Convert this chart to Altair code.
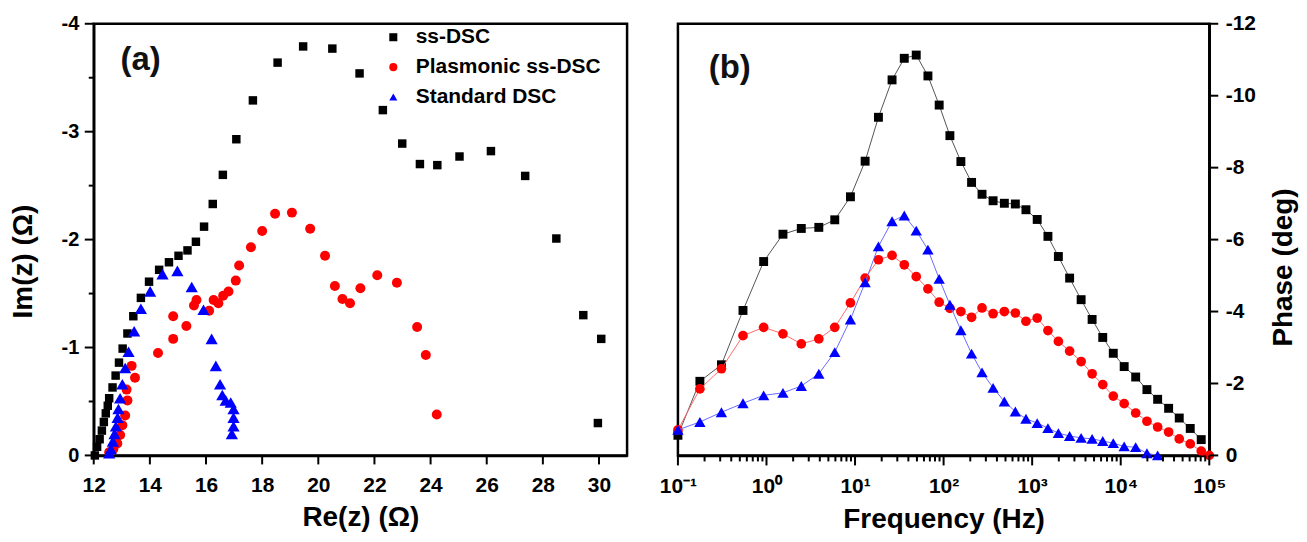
import altair as alt
import pandas as pd

FONT = "Liberation Sans"

# ---------------- Panel (a): Nyquist ----------------
names = ["ss-DSC", "Plasmonic ss-DSC", "Standard DSC"]
colors = ["#000000", "#ff0000", "#0000ff"]
line_colors = ["#555555", "#ff6a6a", "#6a6aff"]
shapes = ["square", "circle", "triangle-up"]

ss_re = [12.04, 12.12, 12.21, 12.29, 12.36, 12.43, 12.50, 12.55, 12.67, 12.78, 12.90, 13.03, 13.20, 13.41,
         13.68, 13.97, 14.33, 14.68, 15.02, 15.34, 15.64, 15.93, 16.24, 16.60, 17.08, 17.67, 18.55, 19.46,
         20.50, 21.47, 22.30, 22.99, 23.62, 24.24, 25.03, 26.15, 27.37, 28.48, 29.44, 30.08, 29.96]
ss_im = [0.0, -0.08, -0.15, -0.23, -0.31, -0.39, -0.46, -0.53, -0.63, -0.74, -0.86, -0.99, -1.13, -1.29,
         -1.46, -1.61, -1.72, -1.79, -1.85, -1.90, -1.98, -2.12, -2.33, -2.60, -2.93, -3.29, -3.64, -3.79,
         -3.77, -3.54, -3.20, -2.89, -2.70, -2.69, -2.77, -2.82, -2.59, -2.01, -1.30, -1.08, -0.30]

pl_re = [12.55, 12.70, 12.84, 12.94, 13.02, 13.12, 13.20, 13.17, 13.47, 13.35, 14.29, 14.83, 14.83, 15.30,
         15.57, 15.66, 16.11, 16.27, 16.44, 16.61, 16.80, 17.06, 17.18, 17.60, 18.00, 18.46, 19.06, 19.71,
         20.24, 20.59, 20.86, 21.13, 21.50, 22.10, 22.80, 23.52, 23.83, 24.22]
pl_im = [-0.03, -0.06, -0.11, -0.19, -0.28, -0.37, -0.51, -0.61, -0.72, -0.83, -0.95, -1.08, -1.29, -1.20,
         -1.39, -1.44, -1.34, -1.44, -1.41, -1.48, -1.52, -1.62, -1.76, -1.93, -2.08, -2.24, -2.25, -2.10,
         -1.85, -1.57, -1.45, -1.41, -1.55, -1.67, -1.60, -1.19, -0.93, -0.38]

st_re = [12.55, 12.61, 12.68, 12.74, 12.79, 12.85, 12.88, 12.94, 13.02, 13.12, 13.24, 13.44, 13.68, 14.01,
         14.45, 14.98, 15.49, 15.91, 16.20, 16.35, 16.50, 16.58, 16.70, 16.88, 16.98, 16.98, 16.98, 16.92]
st_im = [-0.02, -0.06, -0.13, -0.20, -0.27, -0.35, -0.43, -0.53, -0.66, -0.81, -0.96, -1.15, -1.36, -1.52,
         -1.68, -1.71, -1.56, -1.35, -1.08, -0.83, -0.66, -0.56, -0.51, -0.49, -0.43, -0.35, -0.27, -0.20]

re_ticks = [12, 14, 16, 18, 20, 22, 24, 26, 28, 30]
im_major = [-4, -3, -2, -1, 0]
im_minor = [-3.5, -2.5, -1.5, -0.5]

# ---------------- Panel (b): Bode phase ----------------
freq = [0.1, 0.177, 0.310, 0.543, 0.929, 1.535, 2.472, 3.899, 5.902, 8.872, 13.0, 18.37, 26.18, 35.97,
        49.09, 66.53, 89.13, 117.8, 156.7, 207.0, 271.6, 362.2, 485.3, 645.7, 851.1, 1140, 1507, 1977,
        2649, 3573, 4753, 6266, 8241, 10940, 14760, 19770, 26120, 34750, 45810, 60950, 81100, 100000]
ss_phase = [-0.56, -2.06, -2.52, -4.03, -5.39, -6.15, -6.31, -6.34, -6.55, -7.19, -8.18, -9.40, -10.44,
            -11.04, -11.13, -10.55, -9.74, -8.89, -8.17, -7.59, -7.26, -7.08, -7.01, -6.99, -6.83, -6.56,
            -6.09, -5.53, -4.93, -4.33, -3.78, -3.28, -2.84, -2.47, -2.18, -1.83, -1.56, -1.31, -1.04,
            -0.75, -0.44]
pl_phase = [-0.71, -1.85, -2.41, -3.33, -3.56, -3.38, -3.10, -3.24, -3.56, -4.24, -4.93, -5.44, -5.56,
            -5.30, -4.97, -4.63, -4.26, -4.09, -4.00, -3.84, -4.10, -3.94, -4.00, -3.96, -3.73, -3.82,
            -3.47, -3.17, -2.90, -2.61, -2.27, -1.97, -1.65, -1.44, -1.18, -0.95, -0.79, -0.65, -0.46,
            -0.32, -0.12, 0.0]
st_phase = [-0.71, -0.93, -1.20, -1.45, -1.67, -1.74, -1.93, -2.27, -2.87, -3.78, -4.81, -5.81, -6.51,
            -6.67, -6.25, -5.72, -4.91, -4.19, -3.48, -2.83, -2.31, -1.88, -1.50, -1.22, -1.02, -0.90,
            -0.76, -0.62, -0.54, -0.49, -0.46, -0.40, -0.34, -0.25, -0.23, -0.06, 0.0]

decade_vals = [0.1, 1, 10, 100, 1000, 10000, 100000]
decade_labels = ["10⁻¹", "10⁰", "10¹", "10²", "10³", "10⁴", "10⁵"]
minor_mult = [2, 3, 4, 5, 6, 7, 8, 9]
phase_ticks = [-12, -10, -8, -6, -4, -2, 0]

# ---------------- tables ----------------
df_a = pd.DataFrame({
    "Re": ss_re + pl_re + st_re,
    "Im": ss_im + pl_im + st_im,
    "series": [names[0]] * len(ss_re) + [names[1]] * len(pl_re) + [names[2]] * len(st_re),
})
phases = [ss_phase, pl_phase, st_phase]
df_b = pd.concat([
    pd.DataFrame({"freq": freq[:len(p)], "phase": p, "series": names[i]})
    for i, p in enumerate(phases)
], ignore_index=True)

freq_minor = [m * d for d in decade_vals[:-1] for m in minor_mult]
freq_label_expr = " : ".join(
    f"datum.value == {v!r} ? '{l}'" for v, l in zip(decade_vals, decade_labels)
) + " : ''"

W_A, W_B, H = 535, 533, 433

# ---------------- panel (a) ----------------
legend_a = alt.Legend(
    orient="none", legendX=290, legendY=3, title=None, labelFont=FONT, labelFontSize=21,
    labelFontWeight="bold", labelColor="black", symbolSize=65, rowPadding=8, labelOffset=12,
    padding=0, symbolStrokeWidth=0, labelLimit=400,
)
x_a = alt.X("Re:Q", scale=alt.Scale(domain=[12, 31], nice=False, zero=False),
            axis=alt.Axis(values=re_ticks, labelExpr="toString(datum.value)", ticks=False,
                          labelPadding=19, labelFontSize=21, labelFlush=False, labelOverlap=False,
                          title="Re(z) (Ω)", titleFontSize=28, titleY=70,
                          titleBaseline="alphabetic"))
y_a = alt.Y("Im:Q", scale=alt.Scale(domain=[-4, 0], reverse=True, nice=False, zero=False),
            axis=alt.Axis(values=im_major, labelExpr="toString(datum.value)", ticks=False,
                          labelPadding=15, labelFontSize=20, labelOverlap=False,
                          title="Im(z) (Ω)", titleFontSize=28, titleAngle=270, titleX=-70,
                          titleY=238, titleAlign="center", titleBaseline="middle"))
base_a = alt.Chart(df_a).encode(
    x=x_a, y=y_a,
    color=alt.Color("series:N", scale=alt.Scale(domain=names, range=colors), legend=legend_a),
    shape=alt.Shape("series:N", scale=alt.Scale(domain=names, range=shapes), legend=legend_a),
)
sizes_a = [72, 100, 150]
layers_a = [
    base_a.transform_filter(alt.datum.series == n).mark_point(filled=True, opacity=1, size=s)
    for n, s in zip(names, sizes_a)
]
# tick marks drawn through the same scales
tick_style = dict(color="black", strokeWidth=2)
ticks_ax = alt.Chart(pd.DataFrame({"Re": re_ticks})).mark_rule(**tick_style).encode(
    x=x_a, y=alt.value(H), y2=alt.value(H + 9))
ticks_ay_major = alt.Chart(pd.DataFrame({"Im": im_major})).mark_rule(**tick_style).encode(
    y=y_a, x=alt.value(0), x2=alt.value(-9))
ticks_ay_minor = alt.Chart(pd.DataFrame({"Im": im_minor})).mark_rule(**tick_style).encode(
    y=y_a, x=alt.value(0), x2=alt.value(-5))
label_a = alt.Chart(pd.DataFrame({"t": ["(a)"]})).mark_text(
    font=FONT, fontSize=33, fontWeight="bold", color="#111111", align="center", baseline="middle"
).encode(x=alt.value(47), y=alt.value(36), text="t:N")
panel_a = alt.layer(*layers_a, ticks_ax, ticks_ay_major, ticks_ay_minor, label_a).properties(
    width=W_A, height=H)

# ---------------- panel (b) ----------------
x_b = alt.X("freq:Q", scale=alt.Scale(type="log", domain=[0.1, 100000], nice=False),
            axis=alt.Axis(values=decade_vals, labelExpr=freq_label_expr, ticks=False,
                          labelPadding=20, labelFontSize=21, labelFlush=False, labelOverlap=False,
                          title="Frequency (Hz)", titleFontSize=28, titleY=72,
                          titleBaseline="alphabetic"))
y_b = alt.Y("phase:Q", scale=alt.Scale(domain=[-12, 0], reverse=True, nice=False, zero=False),
            axis=alt.Axis(orient="right", values=phase_ticks, labelExpr="toString(datum.value)",
                          ticks=False, labelPadding=16, labelFontSize=21, labelOverlap=False,
                          title="Phase (deg)", titleFontSize=28, titleAngle=270, titleX=74,
                          titleY=244, titleAlign="center", titleBaseline="middle"))
base_b = alt.Chart(df_b).encode(x=x_b, y=y_b)
sizes_b = [80, 95, 130]
layers_b = []
for n, c, lc, sh, s in zip(names, colors, line_colors, shapes, sizes_b):
    sub = base_b.transform_filter(alt.datum.series == n)
    layers_b.append(sub.mark_line(color=lc, strokeWidth=1))
    layers_b.append(sub.mark_point(filled=True, opacity=1, shape=sh, color=c, size=s))
ticks_bx_major = alt.Chart(pd.DataFrame({"freq": decade_vals})).mark_rule(**tick_style).encode(
    x=x_b, y=alt.value(H), y2=alt.value(H + 10))
ticks_bx_minor = alt.Chart(pd.DataFrame({"freq": freq_minor})).mark_rule(**tick_style).encode(
    x=x_b, y=alt.value(H), y2=alt.value(H + 6))
ticks_by = alt.Chart(pd.DataFrame({"phase": phase_ticks})).mark_rule(**tick_style).encode(
    y=y_b, x=alt.value(W_B), x2=alt.value(W_B + 9))
label_b = alt.Chart(pd.DataFrame({"t": ["(b)"]})).mark_text(
    font=FONT, fontSize=33, fontWeight="bold", color="#111111", align="center", baseline="middle"
).encode(x=alt.value(52), y=alt.value(44), text="t:N")
panel_b = alt.layer(*layers_b, ticks_bx_major, ticks_bx_minor, ticks_by, label_b).properties(
    width=W_B, height=H)

chart = alt.hconcat(panel_a, panel_b, spacing=51, bounds="flush").resolve_scale(
    color="independent", shape="independent", x="independent", y="independent"
).configure_view(
    stroke="black", strokeWidth=2.5
).configure_axis(
    domainColor="black", domainWidth=2.5, grid=False,
    labelFont=FONT, labelFontWeight="bold", labelColor="black",
    titleFont=FONT, titleFontWeight="bold", titleColor="black",
).properties(
    padding={"left": 0, "top": 2, "right": 0, "bottom": 0}
)

chart.save("out.html", embed_options={"renderer": "svg", "actions": False})
